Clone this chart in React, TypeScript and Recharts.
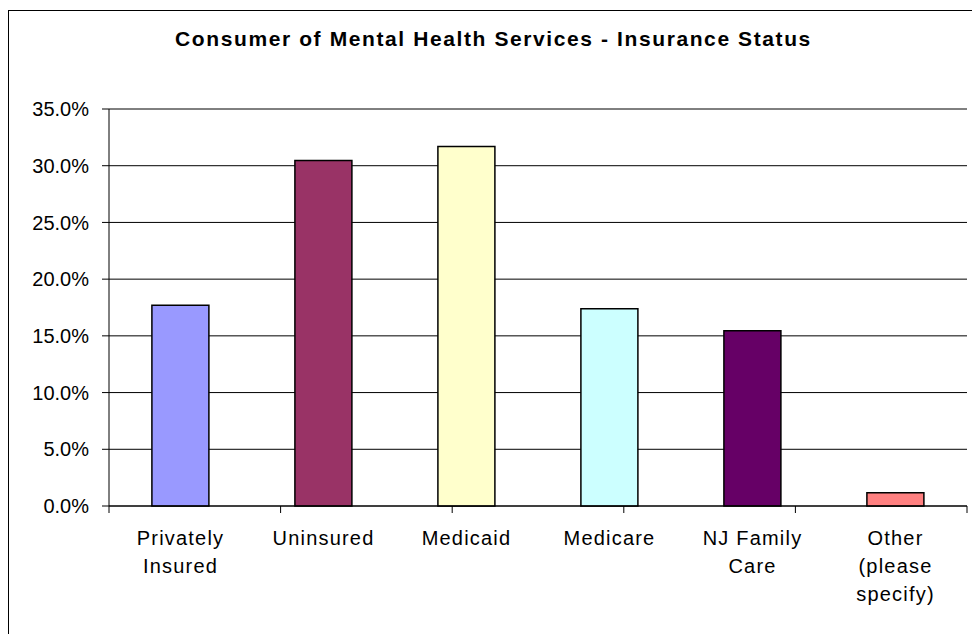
import { BarChart, Bar, Cell, XAxis, YAxis, CartesianGrid } from 'recharts';

const categories = ['Privately\nInsured', 'Uninsured', 'Medicaid', 'Medicare', 'NJ Family\nCare', 'Other\n(please\nspecify)'];
const shares = [0.177, 0.3045, 0.317, 0.174, 0.1545, 0.0117];
const barColors = ['#9999FF', '#993366', '#FFFFCC', '#CCFFFF', '#660066', '#FF8080'];
const yTicks = [0, 0.05, 0.1, 0.15, 0.2, 0.25, 0.3, 0.35];

const chartData = categories.map((name, i) => ({ name, value: shares[i] }));
const boundaryTicks = categories.map((_, i) => i).concat(categories.length);

const FONT = '"Liberation Sans", Arial, sans-serif';

function CategoryTick({ x, y, payload }: any) {
  const lines = String(payload.value).split('\n');
  return (
    <text x={x} y={y} textAnchor="middle" fill="#000" fontSize={20} fontFamily={FONT} style={{ letterSpacing: 1.2 }}>
      {lines.map((line, i) => (
        <tspan key={i} x={x} dy={i === 0 ? 31 : 28}>{line}</tspan>
      ))}
    </text>
  );
}

export default function App() {
  return (
    <div style={{ position: 'absolute', left: 0, top: 0, width: 972, height: 634, overflow: 'hidden', background: '#fff' }}>
      <div style={{ position: 'absolute', left: 8, top: 10, width: 1000, height: 700, border: '1px solid #000' }} />
      <div
        style={{
          position: 'absolute', left: 8, top: 28, width: 971, textAlign: 'center',
          fontFamily: FONT, fontWeight: 'bold', fontSize: 21, lineHeight: '21px', letterSpacing: 1.6, color: '#000',
        }}
      >
        Consumer of Mental Health Services - Insurance Status
      </div>
      <div style={{ position: 'absolute', left: 0, top: 0 }}>
        <BarChart
          width={972}
          height={634}
          data={chartData}
          margin={{ top: 109, right: 5, bottom: 0, left: 9 }}
          barCategoryGap="30%"
        >
          <CartesianGrid vertical={false} stroke="#000" xAxisId="cat" />
          <XAxis
            xAxisId="bounds"
            type="number"
            domain={[0, categories.length]}
            allowDataOverflow
            ticks={boundaryTicks}
            interval={0}
            height={8}
            axisLine={{ stroke: '#000' }}
            tickSize={7}
            tickLine={{ stroke: '#000' }}
            tickFormatter={() => ''}
          />
          <XAxis
            xAxisId="cat"
            dataKey="name"
            interval={0}
            height={120}
            tickLine={false}
            tickSize={0}
            tickMargin={0}
            axisLine={false}
            tick={<CategoryTick />}
          />
          <YAxis
            width={100}
            domain={[0, 0.35]}
            ticks={yTicks}
            interval={0}
            tickSize={7}
            tickMargin={13}
            axisLine={{ stroke: '#000' }}
            tickLine={{ stroke: '#000' }}
            tick={{ fill: '#000', fontSize: 20, fontFamily: FONT }}
            tickFormatter={(v: number) => `${(v * 100).toFixed(1)}%`}
          />
          <Bar xAxisId="cat" dataKey="value" stroke="#000" strokeWidth={1.5} isAnimationActive={false}>
            {chartData.map((_, i) => (
              <Cell key={i} fill={barColors[i]} />
            ))}
          </Bar>
        </BarChart>
      </div>
    </div>
  );
}
